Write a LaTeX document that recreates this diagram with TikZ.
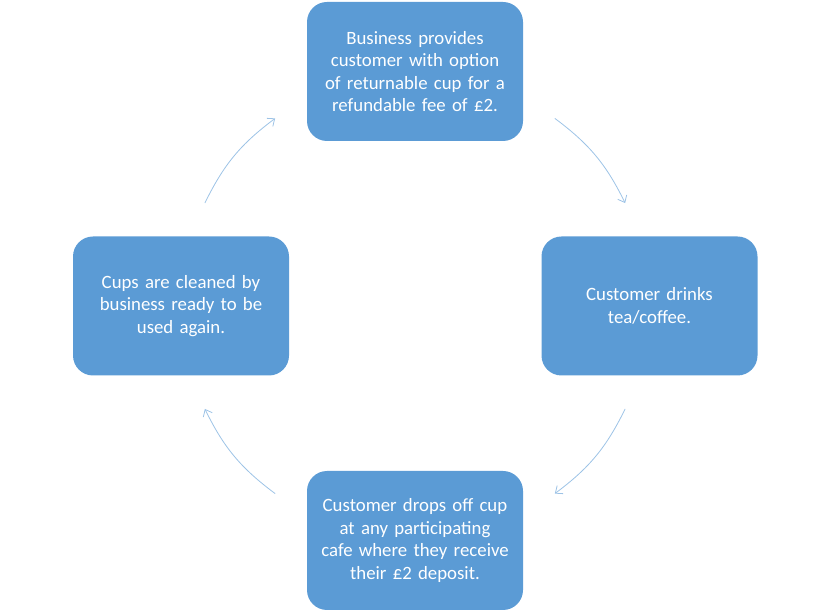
\documentclass[tikz,border=0pt]{standalone}
\usepackage{fontspec}
\setmainfont{Carlito}
\usepackage{tikz}
\usetikzlibrary{arrows.meta,positioning,calc}
\definecolor{boxblue}{HTML}{5B9BD5}
\definecolor{arcblue}{HTML}{9DC3E6}

\begin{document}
\begin{tikzpicture}[
  x=1pt,y=1pt,
  font=\fontsize{18.8}{22.6}\selectfont,
  stagebox/.style={
    fill=boxblue,
    draw=none,
    text=white,
    rounded corners=20pt,
    minimum width=216pt,
    minimum height=139pt,
    text width=200pt,
    align=center,
    inner sep=0pt
  },
  flow/.style={-{Straight Barb[length=6pt,width=10pt]},draw=arcblue,line width=0.8pt}
]
  \useasboundingbox (0,0) rectangle (830,613);
  \coordinate (hub) at (415,307);

  \node[stagebox] (offer) at (415,541.5) {Business provides\\customer with option\\of returnable cup for a\\refundable fee of £2.};
  \node[stagebox] (drink) at (649.5,307) {Customer drinks\\tea/coffee.};
  \node[stagebox] (drop) at (415,72.5) {Customer drops off cup\\at any participating\\cafe where they receive\\their £2 deposit.};
  \node[stagebox] (clean) at (181,307) {Cups are cleaned by\\business ready to be\\used again.};

  % points on the ring between the boxes
  \coordinate (offerout) at ($(hub)+(53.3:234)$);
  \coordinate (drinkin) at ($(hub)+(26.1:234)$);
  \coordinate (drinkout) at ($(hub)+(-26.1:234)$);
  \coordinate (dropin) at ($(hub)+(-53.3:234)$);
  \coordinate (dropout) at ($(hub)+(-126.7:234)$);
  \coordinate (cleanin) at ($(hub)+(-153.9:234)$);
  \coordinate (cleanout) at ($(hub)+(153.9:234)$);
  \coordinate (offerin) at ($(hub)+(126.7:234)$);

  \draw[flow] (offerout) to[bend left=13.6] (drinkin);
  \draw[flow] (drinkout) to[bend left=13.6] (dropin);
  \draw[flow] (dropout) to[bend left=13.6] (cleanin);
  \draw[flow] (cleanout) to[bend left=13.6] (offerin);
\end{tikzpicture}
\end{document}
